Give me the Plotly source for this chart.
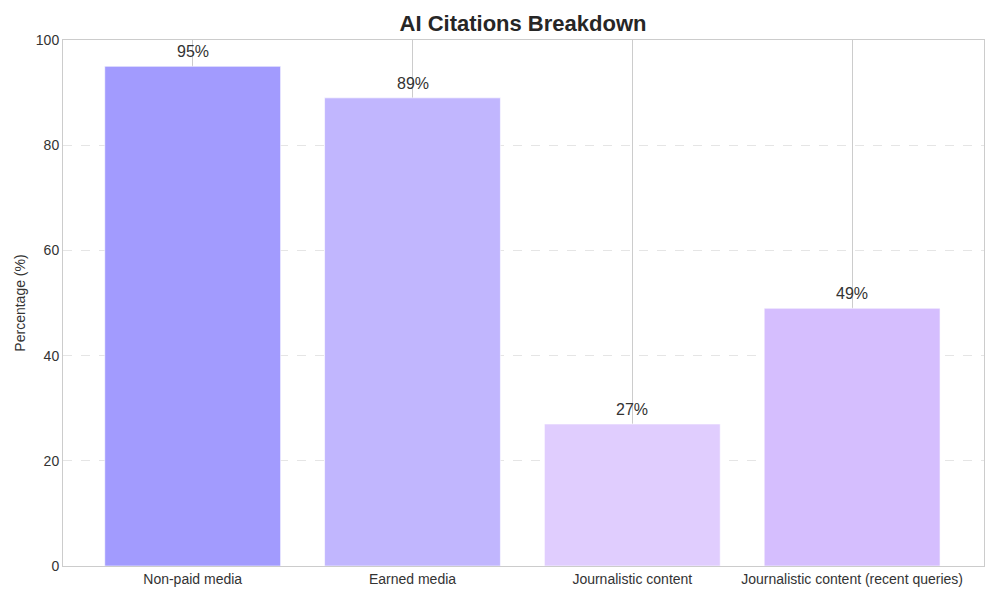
import plotly.graph_objects as go

categories = ["Non-paid media", "Earned media", "Journalistic content", "Journalistic content (recent queries)"]
values = [95, 89, 27, 49]
colors = ["#a29bfe", "#c1b6fe", "#e0cdfe", "#d5befe"]
labels = [f"{v}%" for v in values]

FONT = "Liberation Sans, Arial, sans-serif"

fig = go.Figure()
fig.add_trace(go.Bar(
    x=list(range(len(categories))), y=values,
    marker=dict(color=colors, line=dict(color="rgba(255,255,255,0.6)", width=1)),
    width=0.8, hoverinfo="skip",
))

for i, (v, t) in enumerate(zip(values, labels)):
    fig.add_annotation(x=i, y=v + 1, text=t, showarrow=False, yanchor="bottom",
                       font=dict(size=16, color="#333333", family=FONT), yshift=-1)

fig.update_layout(
    width=1000, height=600,
    margin=dict(l=63, r=16, t=40, b=34, autoexpand=False),
    paper_bgcolor="white", plot_bgcolor="white",
    title=dict(text="<b>AI Citations Breakdown</b>", x=0.523, xanchor="center", y=0.962, yanchor="middle",
               font=dict(size=22, color="#262626", family=FONT)),
    showlegend=False,
    font=dict(family=FONT, color="#333333", size=14),
    bargap=0.2,
)
fig.update_xaxes(
    range=[-0.59, 3.6], automargin=False,
    tickmode="array", tickvals=list(range(len(categories))), ticktext=categories,
    showgrid=True, gridcolor="#cccccc", gridwidth=1,
    showline=True, linecolor="#cccccc", linewidth=1, mirror=True,
    ticks="", tickfont=dict(size=14, color="#333333"), zeroline=False,
)
fig.update_yaxes(
    range=[0, 100], tickvals=[0, 20, 40, 60, 80, 100], automargin=False,
    showgrid=True, gridcolor="#e5e5e5", griddash="dash", gridwidth=1,
    showline=True, linecolor="#cccccc", linewidth=1, mirror=True,
    ticks="", tickfont=dict(size=14, color="#333333"), zeroline=False,
    title=dict(text="Percentage (%)", font=dict(size=14, color="#333333"), standoff=6),
)

fig.write_html("out.html")
